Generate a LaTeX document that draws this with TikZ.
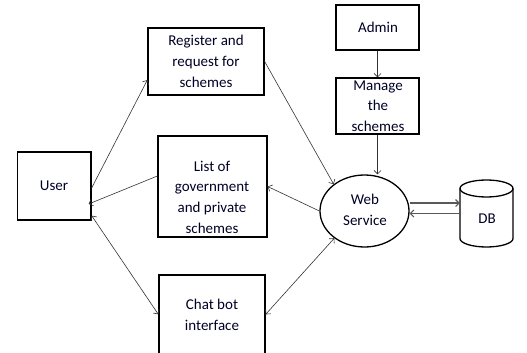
\documentclass[tikz,border=0pt]{standalone}
\usepackage{fontspec}
\setmainfont{Carlito}
\usetikzlibrary{arrows.meta,shapes.geometric,calc}
\begin{document}
\begin{tikzpicture}[x=1pt,y=-1pt,
  box/.style={draw, line width=1.3pt, inner sep=0pt},
  lbl/.style={align=center, inner sep=0pt, text=black!85!blue, font=\fontsize{15}{20.7}\selectfont},
  link/.style={line width=0.6pt, draw=black!80, -{Straight Barb[length=3.5pt,width=7pt]}},
  duplex/.style={link, {Straight Barb[length=3.5pt,width=7pt]}-{Straight Barb[length=3.5pt,width=7pt]}},
  dbline/.style={line width=1.1pt, draw=black!65, -{Straight Barb[length=3.5pt,width=7pt]}}]
\useasboundingbox (0,0) rectangle (527,353);
\clip (0,0) rectangle (527,353);

% boxes
\node[box, minimum width=73.5pt, minimum height=68pt] (user) at (54.25,186) {};
\node[lbl] at (54,186) {User};
\node[box, minimum width=116pt, minimum height=67pt] (reg) at (206,61.5) {};
\node[lbl] at (206,61.5) {Register and\\request for\\schemes};
\node[box, minimum width=109pt, minimum height=101pt] (list) at (212.5,186.5) {};
\node[lbl] at (212,197) {List of\\government\\and private\\schemes};
\node[box, minimum width=106pt, minimum height=110pt] (chat) at (212,330) {};
\node[lbl] at (212,315) {Chat bot\\interface};
\node[box, minimum width=83pt, minimum height=45pt] (admin) at (377.5,27.5) {};
\node[lbl] at (378,27.5) {Admin};
\node[box, minimum width=83pt, minimum height=56pt] (manage) at (377.5,106) {};
\node[lbl] at (378,106) {Manage\\the\\schemes};

% web service
\node[draw, ellipse, line width=1.3pt, minimum width=89pt, minimum height=72pt, inner sep=0pt] (web) at (364.5,211) {};
\node[lbl] at (365,210) {Web\\Service};

% database cylinder
\node[minimum width=53pt, minimum height=67pt, inner sep=0pt] (db) at (486.5,213.5) {};
\draw[line width=1.3pt] (460,188.5) -- (460,238.5) arc[start angle=180, end angle=360, x radius=26.5pt, y radius=8.5pt] -- (513,188.5);
\draw[line width=1.3pt] (486.5,188.5) ellipse[x radius=26.5pt, y radius=8.5pt];
\node[lbl] at (487,219) {DB};

% connectors
\draw[link] ([yshift=-2pt]user.east) -- ([yshift=-18.5pt]reg.west);
\draw[link] (reg.east) -- (web.139);
\draw[link] (web.west) -- (list.east);
\draw[link] ([yshift=10.5pt]list.west) -- ([xshift=-3pt,yshift=-18pt]user.east);
\draw[duplex] ([yshift=5pt]user.south east) -- ([yshift=-40pt]chat.north west);
\draw[duplex] ([yshift=-40pt]chat.north east) -- (web.222);
\draw[link] (admin.south) -- (manage.north);
\draw[link] (manage.south) -- (manage.south |- web.north);
\draw[dbline] ([yshift=8pt]web.east) -- ([yshift=8pt]web.east -| db.west);
\draw[dbline] (db.west) -- (db.west -| web.east);
\end{tikzpicture}
\end{document}
